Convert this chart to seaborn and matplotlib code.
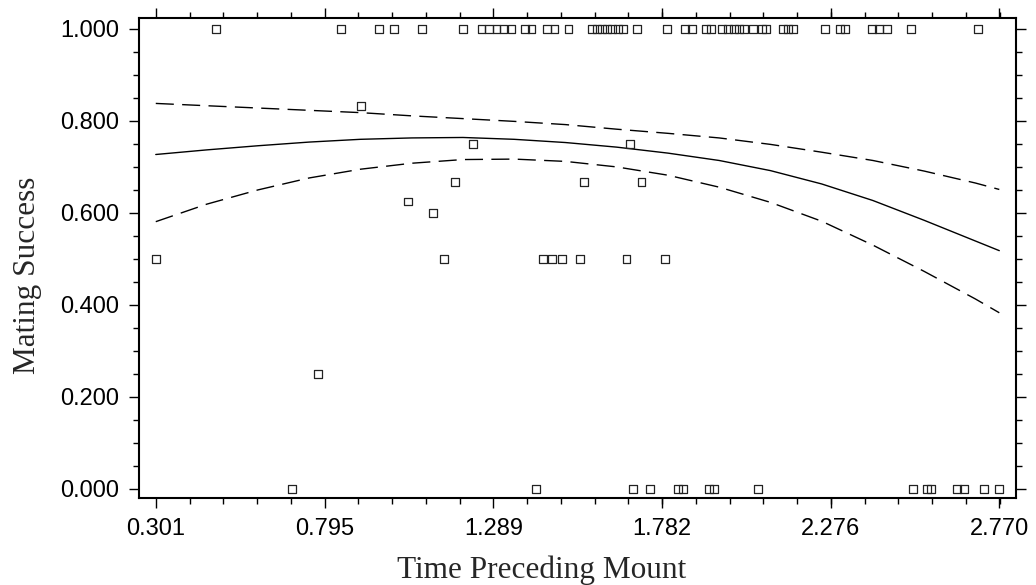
import matplotlib
matplotlib.use("Agg")
import matplotlib.pyplot as plt
from matplotlib.ticker import FixedLocator, AutoMinorLocator, FormatStrFormatter
import seaborn as sns
import pandas as pd

# points sitting on 1.000
x_ones = [0.477, 0.843, 0.954, 0.998, 1.080, 1.201, 1.254, 1.276, 1.298, 1.319,
          1.342, 1.381, 1.401, 1.446, 1.468, 1.509, 1.578, 1.593, 1.607, 1.622,
          1.636, 1.654, 1.669, 1.710, 1.797, 1.850, 1.870, 1.912, 1.926, 1.958,
          1.976, 1.994, 2.008, 2.023, 2.049, 2.075, 2.087, 2.137, 2.151, 2.166,
          2.260, 2.304, 2.318, 2.397, 2.418, 2.441, 2.511, 2.708]
# points sitting on 0.000
x_zeros = [0.699, 1.414, 1.698, 1.748, 1.830, 1.844, 1.920, 1.935, 2.064,
           2.517, 2.558, 2.570, 2.646, 2.667, 2.725, 2.769]
# points in between
x_mid = [0.301, 0.776, 0.902, 1.040, 1.112, 1.145, 1.176, 1.230, 1.434, 1.461,
         1.490, 1.543, 1.555, 1.679, 1.689, 1.723, 1.791]
y_mid = [0.500, 0.250, 0.833, 0.625, 0.600, 0.500, 0.667, 0.750, 0.500, 0.500,
         0.500, 0.500, 0.667, 0.500, 0.750, 0.667, 0.500]

# fitted curve and its bands
curve_x = [0.301, 0.45, 0.6, 0.75, 0.9, 1.05, 1.2, 1.35, 1.5, 1.65, 1.8, 1.95,
           2.1, 2.25, 2.4, 2.55, 2.7, 2.770]
fit_y = [0.727, 0.737, 0.746, 0.754, 0.760, 0.763, 0.764, 0.760, 0.753, 0.743,
         0.730, 0.714, 0.692, 0.663, 0.627, 0.584, 0.539, 0.518]
upper_y = [0.838, 0.833, 0.828, 0.823, 0.818, 0.811, 0.805, 0.799, 0.792, 0.782,
           0.773, 0.763, 0.749, 0.732, 0.714, 0.691, 0.665, 0.651]
lower_y = [0.581, 0.619, 0.650, 0.676, 0.695, 0.708, 0.716, 0.717, 0.712, 0.700,
           0.682, 0.656, 0.623, 0.582, 0.530, 0.473, 0.413, 0.383]

x_ticks = [0.301, 0.795, 1.289, 1.782, 2.276, 2.770]
x_labels = ["0.301", "0.795", "1.289", "1.782", "2.276", "2.770"]
y_ticks = [0.0, 0.2, 0.4, 0.6, 0.8, 1.0]

pts = pd.DataFrame({
    "x": x_ones + x_zeros + x_mid,
    "y": [1.0] * len(x_ones) + [0.0] * len(x_zeros) + y_mid,
})
curves = pd.DataFrame({"x": curve_x, "fit": fit_y, "hi": upper_y, "lo": lower_y})

sns.set_style("ticks")
plt.rcParams["font.family"] = ["Liberation Sans", "DejaVu Sans"]

fig = plt.figure(figsize=(10.36, 5.85), dpi=100)
ax = fig.add_axes([0.1342, 0.1492, 0.8462, 0.8195])

dash = (0, (13, 6))
sns.lineplot(data=curves, x="x", y="fit", color="black", lw=1.0, ax=ax)
sns.lineplot(data=curves, x="x", y="hi", color="black", lw=1.0, linestyle=dash, ax=ax)
sns.lineplot(data=curves, x="x", y="lo", color="black", lw=1.0, linestyle=dash, ax=ax)
sns.scatterplot(data=pts, x="x", y="y", marker="s", s=30, facecolor="none",
                edgecolor="#222222", linewidth=0.9, ax=ax, zorder=3)

ax.set_xlim(0.252, 2.818)
ax.set_ylim(-0.019, 1.023)
ax.xaxis.set_major_locator(FixedLocator(x_ticks))
ax.set_xticklabels(x_labels)
ax.xaxis.set_minor_locator(AutoMinorLocator(5))
ax.yaxis.set_major_locator(FixedLocator(y_ticks))
ax.yaxis.set_major_formatter(FormatStrFormatter("%.3f"))
ax.yaxis.set_minor_locator(AutoMinorLocator(4))

ax.tick_params(which="both", direction="out", top=True, right=True,
               width=1.0, color="black", labelsize=17, labelcolor="black")
ax.tick_params(which="major", length=7.5, pad=7)
ax.tick_params(which="minor", length=4.5)
for s in ax.spines.values():
    s.set_linewidth(1.5)
    s.set_color("black")

ax.set_xlabel("Time Preceding Mount", family=["Liberation Serif"], fontsize=22.5)
ax.set_ylabel("Mating Success", family=["Liberation Serif"], fontsize=22.5)
ax.xaxis.set_label_coords(0.459, -0.1195)
ax.yaxis.set_label_coords(-0.1112, 0.4645)

fig.savefig("out.png", dpi=100)
